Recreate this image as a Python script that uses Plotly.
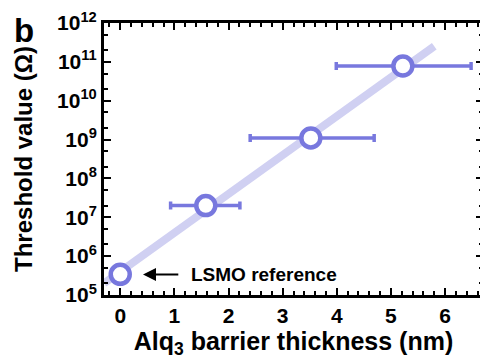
import plotly.graph_objects as go

# Data
thickness = [0.0, 1.58, 3.52, 5.22]            # nm
threshold = [3.4e5, 2.0e7, 1.1e9, 7.8e10]      # Ohm
err_plus = [0.0, 0.63, 1.17, 1.26]
err_minus = [0.0, 0.65, 1.12, 1.23]

fit_x = [-0.3, 5.8]
fit_y = [10**5.3, 10**11.4]

y_tickvals = [1e5, 1e6, 1e7, 1e8, 1e9, 1e10, 1e11, 1e12]
y_ticktext = ["10<sup>5</sup>", "10<sup>6</sup>", "10<sup>7</sup>", "10<sup>8</sup>",
              "10<sup>9</sup>", "10<sup>10</sup>", "10<sup>11</sup>", "10<sup>12</sup>"]
x_tickvals = [0, 1, 2, 3, 4, 5, 6]

MAIN = "rgb(120,120,222)"
LIGHT = "rgb(208,208,242)"
FONT = "Liberation Sans, Arial, sans-serif"

fig = go.Figure()
fig.add_trace(go.Scatter(x=fit_x, y=fit_y, mode="lines",
                         line=dict(color=LIGHT, width=8), hoverinfo="skip",
                         showlegend=False))
fig.add_trace(go.Scatter(
    x=thickness, y=threshold, mode="markers",
    marker=dict(symbol="circle", size=19, color="white",
                line=dict(color=MAIN, width=4.5)),
    error_x=dict(type="data", symmetric=False, array=err_plus, arrayminus=err_minus,
                 color=MAIN, thickness=3.5, width=4),
    showlegend=False))

axis_common = dict(showline=True, linecolor="black", linewidth=3, mirror="ticks",
                   ticks="inside", tickcolor="black", tickwidth=2, ticklen=7,
                   showgrid=False, zeroline=False, automargin=False,
                   tickfont=dict(family=FONT, size=21, color="black", weight="bold"))

fig.update_xaxes(range=[-0.3, 6.7], tickvals=x_tickvals,
                 minor=dict(ticks="inside", dtick=0.2, ticklen=4, tickwidth=1.5,
                            tickcolor="black", showgrid=False),
                 title=dict(text="Alq<sub>3</sub> barrier thickness (nm)", standoff=6,
                            font=dict(family=FONT, size=25, color="black", weight="bold")),
                 **axis_common)
fig.update_yaxes(type="log", range=[5, 12], tickvals=y_tickvals, ticktext=y_ticktext,
                 minor=dict(ticks="inside", ticklen=4, tickwidth=1.5,
                            tickcolor="black", showgrid=False),
                 title=dict(text="Threshold value (Ω)", standoff=18,
                            font=dict(family=FONT, size=24, color="black", weight="bold")),
                 **axis_common)

fig.add_annotation(x=0.42, y=5.53, xref="x", yref="y", ax=1.1, ay=5.53,
                   axref="x", ayref="y", text="", showarrow=True,
                   arrowhead=2, arrowsize=1.3, arrowwidth=2, arrowcolor="black")
fig.add_annotation(x=1.27, y=5.53, xref="x", yref="y", text="LSMO reference",
                   showarrow=False, xanchor="left", yanchor="middle",
                   font=dict(family=FONT, size=19, color="black", weight="bold"))
fig.add_annotation(xref="paper", yref="paper", x=-0.242, y=1.048, text="b",
                   showarrow=False, xanchor="left", yanchor="top",
                   font=dict(family=FONT, size=33, color="black", weight="bold"))

fig.update_layout(width=488, height=360, margin=dict(l=96, r=13, t=15, b=73),
                  plot_bgcolor="white", paper_bgcolor="white")

fig.write_html("out.html")
